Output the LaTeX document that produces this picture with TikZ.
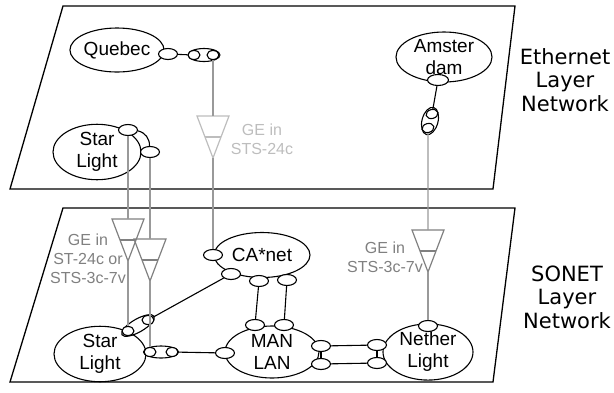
\documentclass[tikz,border=0pt]{standalone}
\usepackage{fontspec}
\setmainfont{Liberation Sans}
\newfontfamily\layerfont{DejaVu Sans}
\usepackage{tikz}
\usetikzlibrary{shapes.geometric}
\definecolor{fibergray}{rgb}{0.60,0.60,0.60}
\definecolor{ghostgray}{rgb}{0.74,0.74,0.74}
\definecolor{midgray}{rgb}{0.50,0.50,0.50}
\tikzset{
  layer/.style={line width=1.3pt},
  site/.style={ellipse, draw, line width=1.1pt, inner sep=0pt, align=center,
    font=\fontsize{19}{22}\selectfont},
  port/.style={ellipse, draw, fill=white, line width=1.1pt, inner sep=0pt,
    minimum width=19pt, minimum height=11pt},
  dport/.style={ellipse, draw, fill=white, line width=1.1pt, inner sep=0pt,
    minimum width=34pt, minimum height=13pt},
  iport/.style={ellipse, draw, fill=white, line width=1.1pt, inner sep=0pt,
    minimum width=12pt, minimum height=9pt},
  link/.style={line width=1.1pt},
  fiber/.style={fibergray, line width=1.2pt},
  getext/.style={align=center, font=\fontsize{16}{19}\selectfont},
  layertext/.style={align=center, font=\layerfont\fontsize{21}{23.5}\selectfont},
  adaptor/.pic={
    \draw[line width=1.2pt] (-16,0) -- (16,0) -- (0,42) -- cycle;
    \draw[line width=1.2pt] (-8,21) -- (8,21);
    \coordinate (-top) at (0,0);
    \coordinate (-tip) at (0,42);
  }
}

\begin{document}
\begin{tikzpicture}[x=1pt, y=-1pt]
  \useasboundingbox (0,0) rectangle (614,392);

  % layers
  \draw[layer] (63,6) -- (515,6) -- (493,189) -- (10,189) -- cycle;
  \draw[layer] (63,208) -- (515,208) -- (493,382) -- (10,382) -- cycle;
  \node[layertext] (eth) at (565,80) {Ethernet\\Layer\\Network};
  \node[layertext] (sonet) at (567,297) {SONET\\Layer\\Network};

  % ethernet sites
  \node[site, minimum width=86pt, minimum height=44pt] (qc) at (117,50) {Quebec};
  \node[port] (qcp) at (168,54) {};
  \node[dport, minimum width=32pt] (qcd) at (204,55) {};
  \node[iport] (qcd1) at (194,55) {};
  \node[iport] (qcd2) at (213,55) {};

  \node[site, minimum width=88pt, minimum height=50pt] (sl) at (97,152) {Star\\Light};
  \node[port] (slp1) at (128,130) {};
  \node[port] (slp2) at (150,152) {};

  \node[site, minimum width=96pt, minimum height=50pt] (ams) at (444,57) {Amster\\dam};
  \node[port, minimum width=21pt] (amp) at (438,80) {};
  \node[dport, minimum width=28pt, minimum height=16pt, rotate=75] (amd) at (430,121) {};
  \node[iport, rotate=15] (amd1) at (432,114) {};
  \node[iport, rotate=15] (amd2) at (428,128) {};

  % sonet sites
  \node[site, minimum width=96pt, minimum height=45pt] (can) at (262,255) {CA*net};
  \node[port] (canw) at (213,255) {};
  \node[port] (can1) at (231,274) {};
  \node[port] (can2) at (259,281) {};
  \node[port] (can3) at (287,280) {};

  \node[site, minimum width=94pt, minimum height=52pt] (ml) at (272,352) {MAN\\LAN};
  \node[port] (ml1) at (255,325) {};
  \node[port] (ml2) at (284,325) {};
  \node[port] (mlw) at (225,353) {};
  \node[port] (mle1) at (321,346) {};
  \node[port] (mle2) at (321,364) {};

  \node[site, minimum width=90pt, minimum height=52pt] (nl) at (428,352) {Nether\\Light};
  \node[port] (nlt) at (428,326) {};
  \node[port] (nlw1) at (377,345) {};
  \node[port] (nlw2) at (377,363) {};

  \node[site, minimum width=92pt, minimum height=54pt] (bsl) at (100,354) {Star\\Light};
  \node[dport, minimum width=37pt, rotate=30] (bsd) at (138,325.5) {};
  \node[iport] (bsd1) at (128,331) {};
  \node[iport] (bsd2) at (148,320) {};
  \node[dport, minimum width=35pt, minimum height=12pt] (bsr) at (161,352) {};
  \node[iport] (bsr1) at (150,352) {};
  \node[iport] (bsr2) at (172,352) {};

  % links
  \draw[link] (qcp) -- (qcd1);
  \draw[link] (slp1) to[bend left=40] (slp2);
  \draw[link] (amp) -- (amd1);
  \draw[link] (bsd2) -- (can1);
  \draw[link] (bsr2) -- (mlw);
  \draw[link] (can2) -- (ml1);
  \draw[link] (can3) -- (ml2);
  \draw[link] (mle1) -- (nlw1);
  \draw[link] (mle2) -- (nlw2);
  \draw[link] (mle1) -- (mle2);
  \draw[link] (nlw1) -- (nlw2);

  % GE adaptors
  \pic[ghostgray] (ga) at (213,116) {adaptor};
  \pic[midgray] (gb) at (128,219) {adaptor};
  \pic[midgray] (gc) at (150,239) {adaptor};
  \pic[midgray] (gd) at (428,230) {adaptor};

  \draw[fiber] (qcd2) -- (ga-top);
  \draw[fiber] (ga-tip) -- (canw);
  \draw[fiber] (slp1) -- (gb-top);
  \draw[fiber] (gb-tip) -- (bsd1);
  \draw[fiber] (slp2) -- (gc-top);
  \draw[fiber] (gc-tip) -- (bsr1);
  \draw[fiber] (amd2) -- (gd-top);
  \draw[fiber] (gd-tip) -- (nlt);

  \node[getext, ghostgray] (gat) at (262,139) {GE in\\STS-24c};
  \node[getext, midgray] (gbt) at (88,259) {GE in\\ST-24c or\\STS-3c-7v};
  \node[getext, midgray] (gdt) at (385,257) {GE in\\STS-3c-7v};
\end{tikzpicture}
\end{document}
